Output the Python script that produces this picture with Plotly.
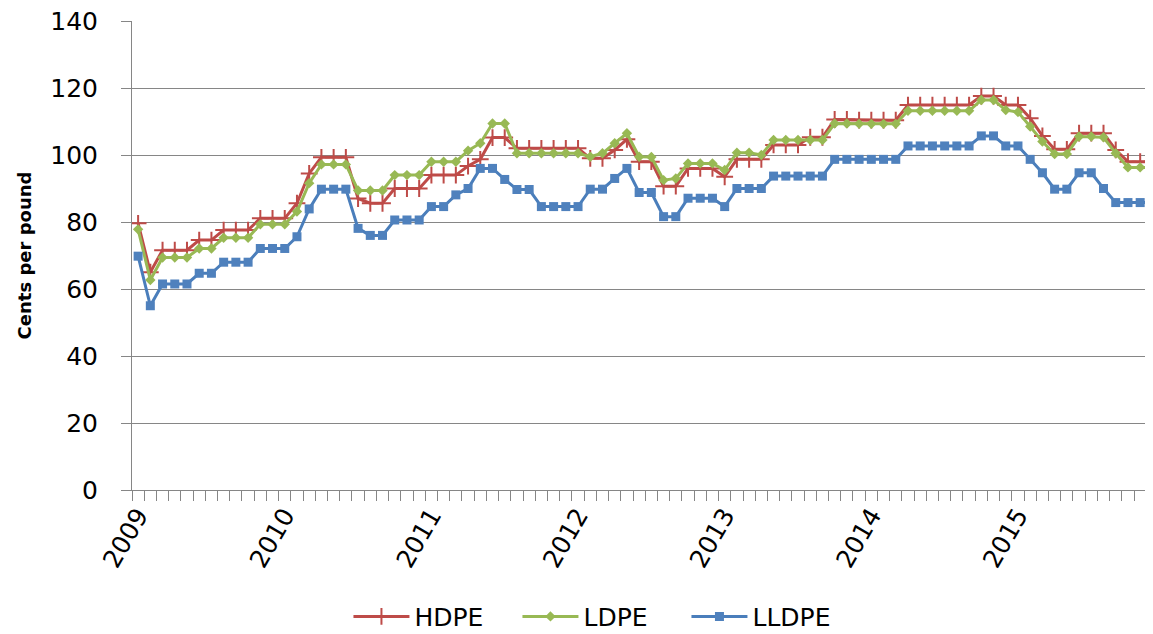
import plotly.graph_objects as go

# Monthly categories Jan 2009 - Dec 2015
years = [2009, 2010, 2011, 2012, 2013, 2014, 2015]
months = [f"{y}-{m:02d}" for y in years for m in range(1, 13)]
tick_text = [m[:4] if m.endswith("-01") else "" for m in months]

hdpe = [79.6, 65.0, 71.6, 71.6, 71.6, 74.6, 74.6, 77.6, 77.6, 77.6, 81.1, 81.1,
        81.1, 85.6, 94.5, 99.3, 99.3, 99.3, 87.0, 85.6, 85.6, 90.0, 90.0, 90.0,
        94.0, 94.0, 94.0, 96.7, 98.7, 105.2, 105.2, 102.0, 102.0, 102.0, 102.0, 102.0,
        102.0, 99.0, 99.0, 101.5, 104.7, 98.0, 98.0, 90.7, 90.7, 96.0, 96.0, 96.0,
        93.5, 98.7, 98.7, 98.7, 103.0, 103.0, 103.0, 105.3, 105.3, 110.6, 110.6, 110.4,
        110.4, 110.4, 110.4, 114.9, 114.9, 114.9, 114.9, 114.9, 114.9, 117.6, 117.6, 114.9,
        114.9, 111.0, 105.7, 101.7, 101.7, 106.5, 106.5, 106.5, 101.5, 98.0, 98.0, 98.0]

ldpe = [77.8, 62.7, 69.4, 69.4, 69.4, 72.1, 72.1, 75.3, 75.3, 75.3, 79.3, 79.3,
        79.3, 83.1, 91.6, 97.2, 97.2, 97.2, 89.4, 89.4, 89.4, 94.0, 94.0, 94.0,
        98.0, 98.0, 98.0, 101.3, 103.5, 109.4, 109.4, 100.5, 100.5, 100.5, 100.5, 100.5,
        100.5, 99.5, 100.5, 103.5, 106.5, 99.5, 99.4, 92.5, 93.0, 97.5, 97.5, 97.5,
        95.5, 100.7, 100.7, 100.0, 104.5, 104.5, 104.5, 104.5, 104.5, 109.4, 109.4, 109.3,
        109.3, 109.3, 109.3, 113.2, 113.2, 113.2, 113.2, 113.2, 113.2, 116.4, 116.4, 113.4,
        112.8, 108.5, 104.0, 100.3, 100.3, 105.5, 105.5, 105.3, 100.5, 96.3, 96.3, 96.3]

lldpe = [69.8, 55.0, 61.5, 61.5, 61.5, 64.7, 64.7, 68.0, 68.0, 68.0, 72.1, 72.1,
         72.1, 75.6, 83.9, 89.8, 89.8, 89.8, 78.1, 76.0, 76.0, 80.6, 80.6, 80.6,
         84.6, 84.6, 88.1, 90.0, 96.0, 96.0, 92.7, 89.7, 89.7, 84.6, 84.6, 84.6,
         84.6, 89.8, 89.8, 93.0, 96.0, 88.8, 88.8, 81.6, 81.6, 87.1, 87.1, 87.1,
         84.6, 90.0, 90.0, 90.0, 93.7, 93.7, 93.7, 93.7, 93.7, 98.7, 98.7, 98.7,
         98.7, 98.7, 98.7, 102.7, 102.7, 102.7, 102.7, 102.7, 102.7, 105.7, 105.7, 102.7,
         102.7, 98.7, 94.7, 89.8, 89.8, 94.7, 94.7, 90.0, 85.8, 85.8, 85.8, 85.8]

FONT = "DejaVu Sans"
GRID = "#868686"

fig = go.Figure()
fig.add_trace(go.Scatter(
    x=months, y=hdpe, name="HDPE", mode="lines+markers",
    line=dict(color="#BE4B48", width=3),
    marker=dict(symbol="cross-thin", size=12, color="#BE4B48",
                line=dict(color="#BE4B48", width=2)),
))
fig.add_trace(go.Scatter(
    x=months, y=ldpe, name="LDPE", mode="lines+markers",
    line=dict(color="#98B954", width=3),
    marker=dict(symbol="diamond", size=8, color="#98B954"),
))
fig.add_trace(go.Scatter(
    x=months, y=lldpe, name="LLDPE", mode="lines+markers",
    line=dict(color="#4A7EBB", width=3),
    marker=dict(symbol="square", size=9, color="#4F81BD"),
))

# the page body has an 8px margin, so the figure is sized/placed to compensate
fig.update_layout(
    width=1145, height=626,
    margin=dict(l=124, r=0, t=13, b=144, autoexpand=False),
    paper_bgcolor="white", plot_bgcolor="white",
    font=dict(family=FONT, color="black", size=25),
    showlegend=True,
    legend=dict(orientation="h", x=0.212, xanchor="left", y=-0.221, yanchor="top",
                font=dict(size=25, family=FONT), bgcolor="rgba(0,0,0,0)",
                entrywidth=98, entrywidthmode="pixels", itemwidth=56),
    xaxis=dict(
        type="category", range=[-0.5, 83.05], automargin=False,
        tickmode="array", tickvals=months, ticktext=tick_text,
        tickson="boundaries", ticks="outside", ticklen=10, tickcolor=GRID, tickwidth=1,
        tickangle=-60, tickfont=dict(size=25, family=FONT),
        showline=True, linecolor=GRID, linewidth=1, showgrid=False,
    ),
    yaxis=dict(
        range=[0, 140], dtick=20, tick0=0, automargin=False,
        showgrid=True, gridcolor=GRID, gridwidth=1,
        showline=True, linecolor=GRID, linewidth=1,
        ticks="outside", ticklen=10, tickcolor=GRID,
        zeroline=False, ticklabelstandoff=18, ticklabeloverflow="allow",
        tickfont=dict(size=25, family=FONT),
        title=dict(text="<b>Cents per pound</b>", font=dict(size=18, family=FONT), standoff=13),
    ),
)

fig.write_html("out.html")
